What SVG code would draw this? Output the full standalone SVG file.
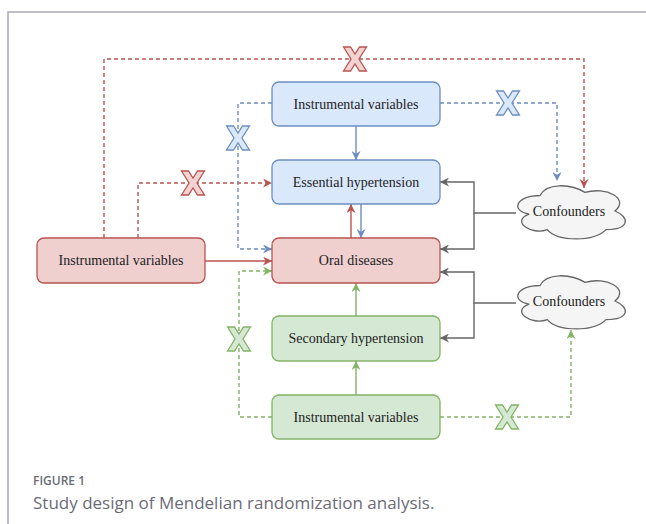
<svg xmlns="http://www.w3.org/2000/svg" width="646" height="524" viewBox="0 0 646 524">
<defs>
<style>
.bx{stroke-width:1.3}
.blue{fill:#dae8fc;stroke:#6c8ebf}
.red{fill:#f0cfcf;stroke:#b85450}
.green{fill:#d5e8d4;stroke:#82b366}
.cloud{fill:#f5f5f5;stroke:#666666;stroke-width:1.3}
.t{font-family:"Liberation Serif",serif;font-size:14px;fill:#222;text-anchor:middle}
.c{fill:none;stroke-width:1.4}
.d{stroke-dasharray:4 3}
.cr{stroke:#b85450}
.cb{stroke:#6c8ebf}
.cg{stroke:#82b366}
.ck{stroke:#666666}
.xr{fill:#f3d3d2;stroke:#b85450;stroke-width:1.3}
.xb{fill:#dae8fc;stroke:#6c8ebf;stroke-width:1.3}
.xg{fill:#d5e8d4;stroke:#82b366;stroke-width:1.3}
</style>
<marker id="ar" viewBox="0 0 10 10" refX="10" refY="5" markerWidth="9" markerHeight="9" markerUnits="userSpaceOnUse" orient="auto"><path d="M0,0 L10,5 L0,10 L3,5 z" fill="#b85450"/></marker>
<marker id="ab" viewBox="0 0 10 10" refX="10" refY="5" markerWidth="9" markerHeight="9" markerUnits="userSpaceOnUse" orient="auto"><path d="M0,0 L10,5 L0,10 L3,5 z" fill="#6c8ebf"/></marker>
<marker id="ag" viewBox="0 0 10 10" refX="10" refY="5" markerWidth="9" markerHeight="9" markerUnits="userSpaceOnUse" orient="auto"><path d="M0,0 L10,5 L0,10 L3,5 z" fill="#82b366"/></marker>
<marker id="ak" viewBox="0 0 10 10" refX="10" refY="5" markerWidth="9" markerHeight="9" markerUnits="userSpaceOnUse" orient="auto"><path d="M0,0 L10,5 L0,10 L3,5 z" fill="#666666"/></marker>
<polygon id="xm" points="-11.5,-12 -4.5,-12 0,-5 4.5,-12 11.5,-12 4,0 11.5,12 4.5,12 0,5 -4.5,12 -11.5,12 -4,0"/>
</defs>
<rect width="646" height="524" fill="#ffffff"/>
<path d="M8,524 V12 H646" fill="none" stroke="#a9a9b3" stroke-width="1.5"/>

<g id="connectors">
<path class="c d cr" d="M104,238 V59 H584 V188" marker-end="url(#ar)"/>
<path class="c d cr" d="M138,238 V183 H272" marker-end="url(#ar)"/>
<path class="c d cb" d="M272,103 H238 V249 H272" marker-end="url(#ab)"/>
<path class="c d cb" d="M440,103 H557 V181" marker-end="url(#ab)"/>
<path class="c cb" d="M356,126 V160" marker-end="url(#ab)"/>
<path class="c cr" d="M351,238 V204" marker-end="url(#ar)"/>
<path class="c cb" d="M361,204 V238" marker-end="url(#ab)"/>
<path class="c cr" d="M205,261 H272" marker-end="url(#ar)"/>
<path class="c d cg" d="M272,417 H239 V271 H272" marker-end="url(#ag)"/>
<path class="c cg" d="M356,316 V283" marker-end="url(#ag)"/>
<path class="c cg" d="M356,395 V361" marker-end="url(#ag)"/>
<path class="c d cg" d="M440,417 H571 V330" marker-end="url(#ag)"/>
<path class="c ck" d="M516,213 H474 V182 H440" marker-end="url(#ak)"/>
<path class="c ck" d="M474,213 V249 H440" marker-end="url(#ak)"/>
<path class="c ck" d="M516,303 H474 V272 H440" marker-end="url(#ak)"/>
<path class="c ck" d="M474,303 V338 H440" marker-end="url(#ak)"/>
<use href="#xm" class="xr" x="355" y="59"/>
<use href="#xm" class="xr" x="193" y="183"/>
<use href="#xm" class="xb" x="238" y="138"/>
<use href="#xm" class="xb" x="508" y="103"/>
<use href="#xm" class="xg" x="239" y="339"/>
<use href="#xm" class="xg" x="507" y="417"/>
</g>

<g id="iv-blue">
<rect class="bx blue" x="272" y="82" width="168" height="44" rx="7"/>
<text class="t" x="356" y="109">Instrumental variables</text>
</g>
<g id="essential">
<rect class="bx blue" x="272" y="160" width="168" height="44" rx="7"/>
<text class="t" x="356" y="187">Essential hypertension</text>
</g>
<g id="oral">
<rect class="bx red" x="272" y="238" width="168" height="45" rx="7"/>
<text class="t" x="356" y="265">Oral diseases</text>
</g>
<g id="iv-red">
<rect class="bx red" x="37" y="238" width="168" height="45" rx="7"/>
<text class="t" x="121" y="265">Instrumental variables</text>
</g>
<g id="secondary">
<rect class="bx green" x="272" y="316" width="168" height="45" rx="7"/>
<text class="t" x="356" y="343">Secondary hypertension</text>
</g>
<g id="iv-green">
<rect class="bx green" x="272" y="395" width="168" height="44" rx="7"/>
<text class="t" x="356" y="422">Instrumental variables</text>
</g>
<g id="confounders1">
<path class="cloud" d="M540,195.5 C516,195.5 510,211 529.2,214.1 C510,220.9 531.6,235.8 547.2,229.6 C558,242 594,242 606,229.6 C630,229.6 630,217.2 615,211 C630,198.6 606,186.2 585,192.4 C570,183.1 546,183.1 540,195.5 Z"/>
<text class="t" x="569" y="216">Confounders</text>
</g>
<g id="confounders2">
<path class="cloud" d="M540,285.5 C516,285.5 510,301 529.2,304.1 C510,310.9 531.6,325.8 547.2,319.6 C558,332 594,332 606,319.6 C630,319.6 630,307.2 615,301 C630,288.6 606,276.2 585,282.4 C570,273.1 546,273.1 540,285.5 Z"/>
<text class="t" x="569" y="306">Confounders</text>
</g>

<text x="33" y="485" font-family="'Open Sans',sans-serif" font-size="12" font-weight="600" fill="#6b6b76">FIGURE 1</text>
<text x="33" y="509" font-family="'Open Sans',sans-serif" font-size="17" fill="#6b6b76">Study design of Mendelian randomization analysis.</text>
</svg>
